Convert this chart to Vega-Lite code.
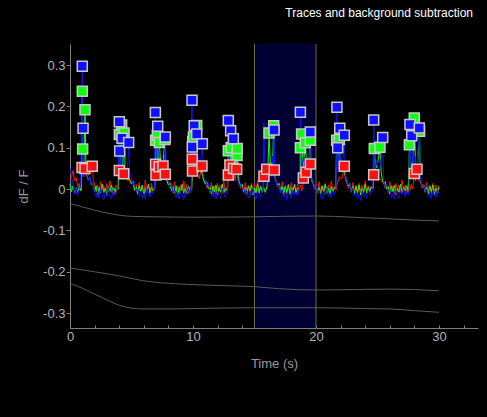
{
"$schema": "https://vega.github.io/schema/vega-lite/v6.json",
"width": 408, "height": 284,
"autosize": {"type": "none"},
"padding": {"left": 70, "top": 44, "right": 9, "bottom": 89},
"background": "black",
"title": {"text": "Traces and background subtraction", "anchor": "end", "color": "white", "fontSize": 12, "fontWeight": "normal", "font": "Liberation Sans", "offset": 15, "baseline": "alphabetic", "dx": -5},
"config": {
  "view": {"stroke": null},
  "axis": {"domainColor": "#808080", "tickColor": "#808080", "labelColor": "#b4b4b4", "titleColor": "#9a9a9a", "labelFont": "Liberation Sans", "titleFont": "Liberation Sans", "labelFontSize": 13, "titleFontSize": 13, "titleFontWeight": "normal", "grid": false}
},
"datasets": {
  "band": [{"t": 15, "t2": 20}],
  "edges": [{"t": 15}, {"t": 20}],
  "bg": [
    {"k": 1, "t": 0, "v": -0.035}, {"k": 1, "t": 1, "v": -0.043}, {"k": 1, "t": 2, "v": -0.051}, {"k": 1, "t": 3, "v": -0.058}, {"k": 1, "t": 4, "v": -0.063}, {"k": 1, "t": 5, "v": -0.066}, {"k": 1, "t": 7, "v": -0.067}, {"k": 1, "t": 10, "v": -0.068}, {"k": 1, "t": 15, "v": -0.067}, {"k": 1, "t": 20, "v": -0.065}, {"k": 1, "t": 23, "v": -0.068}, {"k": 1, "t": 26, "v": -0.072}, {"k": 1, "t": 28, "v": -0.075}, {"k": 1, "t": 30, "v": -0.077},
    {"k": 2, "t": 0, "v": -0.191}, {"k": 2, "t": 2, "v": -0.2}, {"k": 2, "t": 4, "v": -0.21}, {"k": 2, "t": 6, "v": -0.222}, {"k": 2, "t": 8, "v": -0.228}, {"k": 2, "t": 10, "v": -0.231}, {"k": 2, "t": 13, "v": -0.234}, {"k": 2, "t": 15, "v": -0.236}, {"k": 2, "t": 17, "v": -0.241}, {"k": 2, "t": 20, "v": -0.244}, {"k": 2, "t": 23, "v": -0.243}, {"k": 2, "t": 26, "v": -0.242}, {"k": 2, "t": 28, "v": -0.243}, {"k": 2, "t": 30, "v": -0.246},
    {"k": 3, "t": 0, "v": -0.228}, {"k": 3, "t": 1, "v": -0.24}, {"k": 3, "t": 2, "v": -0.254}, {"k": 3, "t": 3, "v": -0.268}, {"k": 3, "t": 4, "v": -0.281}, {"k": 3, "t": 5, "v": -0.288}, {"k": 3, "t": 6, "v": -0.29}, {"k": 3, "t": 8, "v": -0.29}, {"k": 3, "t": 10, "v": -0.289}, {"k": 3, "t": 15, "v": -0.287}, {"k": 3, "t": 20, "v": -0.287}, {"k": 3, "t": 24, "v": -0.289}, {"k": 3, "t": 26, "v": -0.29}, {"k": 3, "t": 28, "v": -0.294}, {"k": 3, "t": 30, "v": -0.298}
  ],
  "tr": [
    {"c":"r","t":0,"v":0.02},{"c":"r","t":0.125,"v":0.03},{"c":"r","t":0.25,"v":0.045},{"c":"r","t":0.375,"v":0.02},{"c":"r","t":0.5,"v":0.028},{"c":"r","t":0.625,"v":0.006},{"c":"r","t":0.75,"v":0.014},{"c":"r","t":0.875,"v":-0.004},
    {"c":"r","t":0.9,"v":0},{"c":"r","t":0.98,"v":0.052,"p":1},{"c":"r","t":1.1,"v":0.03},{"c":"r","t":1.22,"v":0.05,"p":1},{"c":"r","t":1.4,"v":0.03},{"c":"r","t":1.6,"v":0.04},{"c":"r","t":1.81,"v":0.055,"p":1},{"c":"r","t":1.9,"v":0.02},
    {"c":"r","t":2,"v":0.012},{"c":"r","t":2.125,"v":-0.006},{"c":"r","t":2.25,"v":0.01},{"c":"r","t":2.375,"v":-0.012},{"c":"r","t":2.5,"v":0.018},{"c":"r","t":2.625,"v":-0.002},{"c":"r","t":2.75,"v":0.008},{"c":"r","t":2.875,"v":-0.01},{"c":"r","t":3,"v":0.014},{"c":"r","t":3.125,"v":-0.006},{"c":"r","t":3.25,"v":0.02},{"c":"r","t":3.375,"v":-0.008},{"c":"r","t":3.5,"v":0.006},{"c":"r","t":3.625,"v":-0.012},{"c":"r","t":3.75,"v":0.01},{"c":"r","t":3.875,"v":-0.002},
    {"c":"r","t":3.92,"v":0},{"c":"r","t":4.01,"v":0.045,"p":1},{"c":"r","t":4.2,"v":0.025},{"c":"r","t":4.37,"v":0.037,"p":1},{"c":"r","t":4.5,"v":0.03},{"c":"r","t":4.7,"v":0.02},
    {"c":"r","t":4.875,"v":0.025},{"c":"r","t":5,"v":0.012},{"c":"r","t":5.125,"v":0.02},{"c":"r","t":5.25,"v":-0.004},{"c":"r","t":5.375,"v":0.012},{"c":"r","t":5.5,"v":-0.01},{"c":"r","t":5.625,"v":0.016},{"c":"r","t":5.75,"v":-0.006},{"c":"r","t":5.875,"v":0.008},{"c":"r","t":6,"v":-0.012},{"c":"r","t":6.125,"v":0.022},{"c":"r","t":6.25,"v":-0.004},{"c":"r","t":6.375,"v":0.01},{"c":"r","t":6.5,"v":-0.01},{"c":"r","t":6.625,"v":0.014},{"c":"r","t":6.75,"v":-0.006},
    {"c":"r","t":6.88,"v":0},{"c":"r","t":6.96,"v":0.06,"p":1},{"c":"r","t":6.975,"v":0.02},{"c":"r","t":6.99,"v":0.034,"p":1},{"c":"r","t":7.12,"v":0.03},{"c":"r","t":7.26,"v":0.054,"p":1},{"c":"r","t":7.4,"v":0.03},{"c":"r","t":7.56,"v":0.056,"p":1},{"c":"r","t":7.65,"v":0.03},{"c":"r","t":7.75,"v":0.036,"p":1},{"c":"r","t":7.85,"v":0.02},
    {"c":"r","t":8,"v":0.016},{"c":"r","t":8.125,"v":0.002},{"c":"r","t":8.25,"v":0.012},{"c":"r","t":8.375,"v":-0.01},{"c":"r","t":8.5,"v":0.018},{"c":"r","t":8.625,"v":-0.006},{"c":"r","t":8.75,"v":0.008},{"c":"r","t":8.875,"v":-0.012},{"c":"r","t":9,"v":0.01},{"c":"r","t":9.125,"v":-0.004},{"c":"r","t":9.25,"v":0.02},{"c":"r","t":9.375,"v":-0.008},{"c":"r","t":9.5,"v":0.012},{"c":"r","t":9.625,"v":-0.01},{"c":"r","t":9.75,"v":0.006},
    {"c":"r","t":9.88,"v":0},{"c":"r","t":9.94,"v":0.072,"p":1},{"c":"r","t":9.95,"v":0.02},{"c":"r","t":9.96,"v":0.044,"p":1},{"c":"r","t":10.1,"v":0.03},{"c":"r","t":10.3,"v":0.04},{"c":"r","t":10.5,"v":0.025},{"c":"r","t":10.73,"v":0.056,"p":1},{"c":"r","t":10.85,"v":0.02},
    {"c":"r","t":11,"v":0.018},{"c":"r","t":11.125,"v":0.004},{"c":"r","t":11.25,"v":0.012},{"c":"r","t":11.375,"v":-0.008},{"c":"r","t":11.5,"v":0.016},{"c":"r","t":11.625,"v":-0.01},{"c":"r","t":11.75,"v":0.006},{"c":"r","t":11.875,"v":-0.012},{"c":"r","t":12,"v":0.014},{"c":"r","t":12.125,"v":-0.004},{"c":"r","t":12.25,"v":0.01},{"c":"r","t":12.375,"v":-0.008},{"c":"r","t":12.5,"v":0.02},{"c":"r","t":12.625,"v":-0.006},{"c":"r","t":12.75,"v":0.004},
    {"c":"r","t":12.82,"v":0},{"c":"r","t":12.87,"v":0.034,"p":1},{"c":"r","t":12.94,"v":0.02},{"c":"r","t":13,"v":0.058,"p":1},{"c":"r","t":13.15,"v":0.03},{"c":"r","t":13.3,"v":0.05,"p":1},{"c":"r","t":13.42,"v":0.02},{"c":"r","t":13.55,"v":0.048,"p":1},{"c":"r","t":13.65,"v":0.02},
    {"c":"r","t":13.75,"v":0.016},{"c":"r","t":13.875,"v":0.002},{"c":"r","t":14,"v":0.01},{"c":"r","t":14.125,"v":-0.008},{"c":"r","t":14.25,"v":0.016},{"c":"r","t":14.375,"v":-0.006},{"c":"r","t":14.5,"v":0.008},{"c":"r","t":14.625,"v":-0.012},{"c":"r","t":14.75,"v":0.014},{"c":"r","t":14.875,"v":-0.004},{"c":"r","t":15,"v":0.01},{"c":"r","t":15.125,"v":-0.01},{"c":"r","t":15.25,"v":0.022},{"c":"r","t":15.375,"v":-0.006},{"c":"r","t":15.5,"v":0.008},{"c":"r","t":15.625,"v":-0.008},
    {"c":"r","t":15.7,"v":0},{"c":"r","t":15.77,"v":0.031,"p":1},{"c":"r","t":15.88,"v":0.02},{"c":"r","t":15.99,"v":0.048,"p":1},{"c":"r","t":16.2,"v":0.03},{"c":"r","t":16.4,"v":0.04},{"c":"r","t":16.61,"v":0.046,"p":1},{"c":"r","t":16.7,"v":0.02},
    {"c":"r","t":16.8,"v":0.016},{"c":"r","t":16.875,"v":0.004},{"c":"r","t":17,"v":0.012},{"c":"r","t":17.125,"v":-0.008},{"c":"r","t":17.25,"v":0.018},{"c":"r","t":17.375,"v":-0.006},{"c":"r","t":17.5,"v":0.006},{"c":"r","t":17.625,"v":-0.012},{"c":"r","t":17.75,"v":0.012},{"c":"r","t":17.875,"v":-0.004},{"c":"r","t":18,"v":0.016},{"c":"r","t":18.125,"v":-0.01},{"c":"r","t":18.25,"v":0.01},{"c":"r","t":18.375,"v":-0.006},{"c":"r","t":18.5,"v":0.012},{"c":"r","t":18.625,"v":-0.004},{"c":"r","t":18.75,"v":0.01},{"c":"r","t":18.85,"v":-0.004},
    {"c":"r","t":18.9,"v":0},{"c":"r","t":18.97,"v":0.027,"p":1},{"c":"r","t":19.08,"v":0.02},{"c":"r","t":19.19,"v":0.041,"p":1},{"c":"r","t":19.35,"v":0.03},{"c":"r","t":19.54,"v":0.061,"p":1},{"c":"r","t":19.62,"v":0.02},
    {"c":"r","t":19.75,"v":0.014},{"c":"r","t":19.875,"v":0},{"c":"r","t":20,"v":0.012},{"c":"r","t":20.125,"v":-0.01},{"c":"r","t":20.25,"v":0.018},{"c":"r","t":20.375,"v":-0.006},{"c":"r","t":20.5,"v":0.008},{"c":"r","t":20.625,"v":-0.012},{"c":"r","t":20.75,"v":0.014},{"c":"r","t":20.875,"v":-0.004},{"c":"r","t":21,"v":0.01},{"c":"r","t":21.125,"v":-0.008},{"c":"r","t":21.25,"v":0.02},{"c":"r","t":21.375,"v":-0.006},{"c":"r","t":21.5,"v":0.006},{"c":"r","t":21.625,"v":-0.004},
    {"c":"r","t":21.7,"v":0.01},{"c":"r","t":21.9,"v":0.03},{"c":"r","t":22.1,"v":0.025},{"c":"r","t":22.3,"v":0.055,"p":1},{"c":"r","t":22.4,"v":0.02},
    {"c":"r","t":22.5,"v":0.016},{"c":"r","t":22.625,"v":0.002},{"c":"r","t":22.75,"v":0.01},{"c":"r","t":22.875,"v":-0.008},{"c":"r","t":23,"v":0.016},{"c":"r","t":23.125,"v":-0.006},{"c":"r","t":23.25,"v":0.008},{"c":"r","t":23.375,"v":-0.012},{"c":"r","t":23.5,"v":0.014},{"c":"r","t":23.625,"v":-0.004},{"c":"r","t":23.75,"v":0.01},{"c":"r","t":23.875,"v":-0.01},{"c":"r","t":24,"v":0.02},{"c":"r","t":24.125,"v":-0.006},{"c":"r","t":24.25,"v":0.008},{"c":"r","t":24.375,"v":-0.008},{"c":"r","t":24.5,"v":0.006},
    {"c":"r","t":24.62,"v":0},{"c":"r","t":24.69,"v":0.035,"p":1},{"c":"r","t":24.85,"v":0.03},{"c":"r","t":25.05,"v":0.02},{"c":"r","t":25.25,"v":0.025},{"c":"r","t":25.4,"v":0.015},
    {"c":"r","t":25.5,"v":0.014},{"c":"r","t":25.625,"v":0.002},{"c":"r","t":25.75,"v":0.01},{"c":"r","t":25.875,"v":-0.008},{"c":"r","t":26,"v":0.018},{"c":"r","t":26.125,"v":-0.006},{"c":"r","t":26.25,"v":0.008},{"c":"r","t":26.375,"v":-0.012},{"c":"r","t":26.5,"v":0.014},{"c":"r","t":26.625,"v":-0.004},{"c":"r","t":26.75,"v":0.01},{"c":"r","t":26.875,"v":-0.008},{"c":"r","t":27,"v":0.022},{"c":"r","t":27.125,"v":-0.006},{"c":"r","t":27.25,"v":0.01},{"c":"r","t":27.375,"v":-0.01},{"c":"r","t":27.5,"v":0.014},{"c":"r","t":27.625,"v":-0.004},{"c":"r","t":27.75,"v":0.012},{"c":"r","t":27.85,"v":0},
    {"c":"r","t":27.9,"v":0.01},{"c":"r","t":27.99,"v":0.038,"p":1},{"c":"r","t":28.1,"v":0.02},{"c":"r","t":28.21,"v":0.048,"p":1},{"c":"r","t":28.32,"v":0.02},
    {"c":"r","t":28.5,"v":0.016},{"c":"r","t":28.625,"v":0.002},{"c":"r","t":28.75,"v":0.01},{"c":"r","t":28.875,"v":-0.008},{"c":"r","t":29,"v":0.016},{"c":"r","t":29.125,"v":-0.006},{"c":"r","t":29.25,"v":0.008},{"c":"r","t":29.375,"v":-0.012},{"c":"r","t":29.5,"v":0.014},{"c":"r","t":29.625,"v":-0.004},{"c":"r","t":29.75,"v":0.01},{"c":"r","t":29.875,"v":-0.008},{"c":"r","t":30,"v":0.008},

    {"c":"g","t":0,"v":0.012},{"c":"g","t":0.125,"v":-0.006},{"c":"g","t":0.25,"v":0.008},{"c":"g","t":0.375,"v":-0.012},{"c":"g","t":0.5,"v":0.004},{"c":"g","t":0.625,"v":-0.008},{"c":"g","t":0.75,"v":0.006},{"c":"g","t":0.875,"v":-0.004},
    {"c":"g","t":0.92,"v":0},{"c":"g","t":1,"v":0.237,"p":1},{"c":"g","t":1.015,"v":0.04},{"c":"g","t":1.03,"v":0.097,"p":1},{"c":"g","t":1.12,"v":0.05},{"c":"g","t":1.22,"v":0.192,"p":1},{"c":"g","t":1.3,"v":0.04},
    {"c":"g","t":1.375,"v":0.035},{"c":"g","t":1.5,"v":0.02},{"c":"g","t":1.625,"v":0.028},{"c":"g","t":1.75,"v":0.008},{"c":"g","t":1.875,"v":0.014},{"c":"g","t":2,"v":-0.006},{"c":"g","t":2.125,"v":0.008},{"c":"g","t":2.25,"v":-0.014},{"c":"g","t":2.375,"v":0.004},{"c":"g","t":2.5,"v":-0.01},{"c":"g","t":2.625,"v":0.012},{"c":"g","t":2.75,"v":-0.008},{"c":"g","t":2.875,"v":0.002},{"c":"g","t":3,"v":-0.016},{"c":"g","t":3.125,"v":0.006},{"c":"g","t":3.25,"v":-0.006},{"c":"g","t":3.375,"v":0.01},{"c":"g","t":3.5,"v":-0.012},{"c":"g","t":3.625,"v":0.002},{"c":"g","t":3.75,"v":-0.008},{"c":"g","t":3.875,"v":0.004},
    {"c":"g","t":3.92,"v":0},{"c":"g","t":4.01,"v":0.132,"p":1},{"c":"g","t":4.1,"v":0.05},{"c":"g","t":4.2,"v":0.155,"p":1},{"c":"g","t":4.3,"v":0.05},{"c":"g","t":4.39,"v":0.136,"p":1},{"c":"g","t":4.5,"v":0.04},{"c":"g","t":4.7,"v":0.03},
    {"c":"g","t":4.875,"v":0.02},{"c":"g","t":5,"v":0.012},{"c":"g","t":5.125,"v":0.018},{"c":"g","t":5.25,"v":-0.002},{"c":"g","t":5.375,"v":0.006},{"c":"g","t":5.5,"v":-0.012},{"c":"g","t":5.625,"v":0.008},{"c":"g","t":5.75,"v":-0.006},{"c":"g","t":5.875,"v":0.01},{"c":"g","t":6,"v":-0.014},{"c":"g","t":6.125,"v":0.002},{"c":"g","t":6.25,"v":-0.008},{"c":"g","t":6.375,"v":0.012},{"c":"g","t":6.5,"v":-0.01},{"c":"g","t":6.625,"v":0.004},{"c":"g","t":6.75,"v":-0.004},
    {"c":"g","t":6.88,"v":0},{"c":"g","t":6.96,"v":0.118,"p":1},{"c":"g","t":7.03,"v":0.05},{"c":"g","t":7.1,"v":0.13,"p":1},{"c":"g","t":7.18,"v":0.05},{"c":"g","t":7.26,"v":0.113,"p":1},{"c":"g","t":7.4,"v":0.05},{"c":"g","t":7.55,"v":0.06},{"c":"g","t":7.72,"v":0.12,"p":1},{"c":"g","t":7.8,"v":0.03},
    {"c":"g","t":7.875,"v":0.02},{"c":"g","t":8,"v":0.01},{"c":"g","t":8.125,"v":0.016},{"c":"g","t":8.25,"v":-0.004},{"c":"g","t":8.375,"v":0.006},{"c":"g","t":8.5,"v":-0.01},{"c":"g","t":8.625,"v":0.008},{"c":"g","t":8.75,"v":-0.014},{"c":"g","t":8.875,"v":0.004},{"c":"g","t":9,"v":-0.006},{"c":"g","t":9.125,"v":0.012},{"c":"g","t":9.25,"v":-0.01},{"c":"g","t":9.375,"v":0.002},{"c":"g","t":9.5,"v":-0.012},{"c":"g","t":9.625,"v":0.006},{"c":"g","t":9.75,"v":-0.004},
    {"c":"g","t":9.9,"v":0},{"c":"g","t":9.98,"v":0.115,"p":1},{"c":"g","t":10.005,"v":0.04},{"c":"g","t":10.03,"v":0.126,"p":1},{"c":"g","t":10.15,"v":0.05},{"c":"g","t":10.3,"v":0.154,"p":1},{"c":"g","t":10.4,"v":0.04},{"c":"g","t":10.6,"v":0.05},{"c":"g","t":10.8,"v":0.03},
    {"c":"g","t":10.875,"v":0.022},{"c":"g","t":11,"v":0.012},{"c":"g","t":11.125,"v":0.018},{"c":"g","t":11.25,"v":0},{"c":"g","t":11.375,"v":0.006},{"c":"g","t":11.5,"v":-0.012},{"c":"g","t":11.625,"v":0.008},{"c":"g","t":11.75,"v":-0.006},{"c":"g","t":11.875,"v":0.01},{"c":"g","t":12,"v":-0.014},{"c":"g","t":12.125,"v":0.004},{"c":"g","t":12.25,"v":-0.008},{"c":"g","t":12.375,"v":0.012},{"c":"g","t":12.5,"v":-0.01},{"c":"g","t":12.625,"v":0.002},{"c":"g","t":12.75,"v":-0.004},
    {"c":"g","t":12.8,"v":0},{"c":"g","t":12.87,"v":0.093,"p":1},{"c":"g","t":12.98,"v":0.04},{"c":"g","t":13.1,"v":0.1,"p":1},{"c":"g","t":13.25,"v":0.04},{"c":"g","t":13.4,"v":0.05},{"c":"g","t":13.58,"v":0.081,"p":1},{"c":"g","t":13.59,"v":0.05},{"c":"g","t":13.6,"v":0.098,"p":1},{"c":"g","t":13.68,"v":0.03},
    {"c":"g","t":13.75,"v":0.018},{"c":"g","t":13.875,"v":0.008},{"c":"g","t":14,"v":0.012},{"c":"g","t":14.125,"v":-0.006},{"c":"g","t":14.25,"v":0.004},{"c":"g","t":14.375,"v":-0.012},{"c":"g","t":14.5,"v":0.008},{"c":"g","t":14.625,"v":-0.004},{"c":"g","t":14.75,"v":0.01},{"c":"g","t":14.875,"v":-0.014},{"c":"g","t":15,"v":0.002},{"c":"g","t":15.125,"v":-0.008},{"c":"g","t":15.25,"v":0.012},{"c":"g","t":15.375,"v":-0.01},{"c":"g","t":15.5,"v":0.006},{"c":"g","t":15.625,"v":-0.006},{"c":"g","t":15.75,"v":0.004},{"c":"g","t":15.875,"v":-0.008},
    {"c":"g","t":16.05,"v":0.01},{"c":"g","t":16.18,"v":0.136,"p":1},{"c":"g","t":16.3,"v":0.05},{"c":"g","t":16.45,"v":0.04},{"c":"g","t":16.56,"v":0.153,"p":1},{"c":"g","t":16.65,"v":0.03},
    {"c":"g","t":16.75,"v":0.02},{"c":"g","t":16.875,"v":0.008},{"c":"g","t":17,"v":0.014},{"c":"g","t":17.125,"v":-0.004},{"c":"g","t":17.25,"v":0.006},{"c":"g","t":17.375,"v":-0.012},{"c":"g","t":17.5,"v":0.008},{"c":"g","t":17.625,"v":-0.008},{"c":"g","t":17.75,"v":0.01},{"c":"g","t":17.875,"v":-0.014},{"c":"g","t":18,"v":0.004},{"c":"g","t":18.125,"v":-0.006},{"c":"g","t":18.25,"v":0.012},{"c":"g","t":18.375,"v":-0.01},{"c":"g","t":18.5,"v":0.002},
    {"c":"g","t":18.65,"v":0},{"c":"g","t":18.73,"v":0.1,"p":1},{"c":"g","t":18.78,"v":0.04},{"c":"g","t":18.83,"v":0.133,"p":1},{"c":"g","t":18.95,"v":0.05},{"c":"g","t":19.13,"v":0.112,"p":1},{"c":"g","t":19.25,"v":0.05},{"c":"g","t":19.4,"v":0.06},{"c":"g","t":19.54,"v":0.118,"p":1},{"c":"g","t":19.62,"v":0.03},
    {"c":"g","t":19.75,"v":0.016},{"c":"g","t":19.875,"v":0.006},{"c":"g","t":20,"v":0.01},{"c":"g","t":20.125,"v":-0.008},{"c":"g","t":20.25,"v":0.004},{"c":"g","t":20.375,"v":-0.012},{"c":"g","t":20.5,"v":0.008},{"c":"g","t":20.625,"v":-0.006},{"c":"g","t":20.75,"v":0.012},{"c":"g","t":20.875,"v":-0.01},{"c":"g","t":21,"v":0.002},{"c":"g","t":21.125,"v":-0.014},{"c":"g","t":21.25,"v":0.006},{"c":"g","t":21.375,"v":-0.006},{"c":"g","t":21.5,"v":0.004},
    {"c":"g","t":21.6,"v":0},{"c":"g","t":21.68,"v":0.118,"p":1},{"c":"g","t":21.78,"v":0.05},{"c":"g","t":21.9,"v":0.12,"p":1},{"c":"g","t":22,"v":0.05},{"c":"g","t":22.15,"v":0.06},{"c":"g","t":22.3,"v":0.04},{"c":"g","t":22.4,"v":0.03},
    {"c":"g","t":22.5,"v":0.02},{"c":"g","t":22.625,"v":0.008},{"c":"g","t":22.75,"v":0.014},{"c":"g","t":22.875,"v":-0.004},{"c":"g","t":23,"v":0.006},{"c":"g","t":23.125,"v":-0.012},{"c":"g","t":23.25,"v":0.008},{"c":"g","t":23.375,"v":-0.008},{"c":"g","t":23.5,"v":0.01},{"c":"g","t":23.625,"v":-0.014},{"c":"g","t":23.75,"v":0.002},{"c":"g","t":23.875,"v":-0.006},{"c":"g","t":24,"v":0.012},{"c":"g","t":24.125,"v":-0.01},{"c":"g","t":24.25,"v":0.004},{"c":"g","t":24.375,"v":-0.004},{"c":"g","t":24.5,"v":0.006},
    {"c":"g","t":24.66,"v":0},{"c":"g","t":24.74,"v":0.098,"p":1},{"c":"g","t":24.85,"v":0.05},{"c":"g","t":25,"v":0.06},{"c":"g","t":25.2,"v":0.101,"p":1},{"c":"g","t":25.3,"v":0.04},
    {"c":"g","t":25.375,"v":0.025},{"c":"g","t":25.5,"v":0.014},{"c":"g","t":25.625,"v":0.018},{"c":"g","t":25.75,"v":0},{"c":"g","t":25.875,"v":0.006},{"c":"g","t":26,"v":-0.012},{"c":"g","t":26.125,"v":0.008},{"c":"g","t":26.25,"v":-0.006},{"c":"g","t":26.375,"v":0.01},{"c":"g","t":26.5,"v":-0.014},{"c":"g","t":26.625,"v":0.002},{"c":"g","t":26.75,"v":-0.008},{"c":"g","t":26.875,"v":0.012},{"c":"g","t":27,"v":-0.01},{"c":"g","t":27.125,"v":0.004},{"c":"g","t":27.25,"v":-0.004},{"c":"g","t":27.375,"v":0.008},{"c":"g","t":27.5,"v":-0.006},
    {"c":"g","t":27.54,"v":0},{"c":"g","t":27.59,"v":0.107,"p":1},{"c":"g","t":27.7,"v":0.05},{"c":"g","t":27.85,"v":0.06},{"c":"g","t":27.99,"v":0.172,"p":1},{"c":"g","t":28.1,"v":0.05},{"c":"g","t":28.25,"v":0.06},{"c":"g","t":28.42,"v":0.14,"p":1},{"c":"g","t":28.47,"v":0.03},
    {"c":"g","t":28.5,"v":0.02},{"c":"g","t":28.625,"v":0.008},{"c":"g","t":28.75,"v":0.012},{"c":"g","t":28.875,"v":-0.006},{"c":"g","t":29,"v":0.004},{"c":"g","t":29.125,"v":-0.012},{"c":"g","t":29.25,"v":0.008},{"c":"g","t":29.375,"v":-0.006},{"c":"g","t":29.5,"v":0.01},{"c":"g","t":29.625,"v":-0.014},{"c":"g","t":29.75,"v":0.002},{"c":"g","t":29.875,"v":-0.008},{"c":"g","t":30,"v":0.006},

    {"c":"b","t":0,"v":0.05},{"c":"b","t":0.125,"v":0.03},{"c":"b","t":0.25,"v":0.01},{"c":"b","t":0.375,"v":-0.012},{"c":"b","t":0.5,"v":0.004},{"c":"b","t":0.625,"v":-0.016},{"c":"b","t":0.75,"v":-0.002},{"c":"b","t":0.875,"v":0.01},
    {"c":"b","t":1,"v":0.297,"p":1},{"c":"b","t":1.03,"v":0.03},{"c":"b","t":1.06,"v":0.147,"p":1},{"c":"b","t":1.1,"v":0.05},
    {"c":"b","t":1.125,"v":0.06},{"c":"b","t":1.25,"v":0.03},{"c":"b","t":1.375,"v":0.045},{"c":"b","t":1.5,"v":0.02},{"c":"b","t":1.625,"v":0.03},{"c":"b","t":1.75,"v":0.008},{"c":"b","t":1.875,"v":0.015},{"c":"b","t":2,"v":-0.006},{"c":"b","t":2.125,"v":-0.02},{"c":"b","t":2.25,"v":-0.004},{"c":"b","t":2.375,"v":-0.022},{"c":"b","t":2.5,"v":0.002},{"c":"b","t":2.625,"v":-0.016},{"c":"b","t":2.75,"v":-0.026},{"c":"b","t":2.875,"v":-0.006},{"c":"b","t":3,"v":-0.018},{"c":"b","t":3.125,"v":0.004},{"c":"b","t":3.25,"v":-0.014},{"c":"b","t":3.375,"v":-0.024},{"c":"b","t":3.5,"v":-0.002},{"c":"b","t":3.625,"v":-0.016},{"c":"b","t":3.75,"v":-0.008},{"c":"b","t":3.875,"v":0},
    {"c":"b","t":4.01,"v":0.163,"p":1},{"c":"b","t":4.025,"v":0.04},{"c":"b","t":4.04,"v":0.092,"p":1},{"c":"b","t":4.12,"v":0.05},{"c":"b","t":4.23,"v":0.123,"p":1},{"c":"b","t":4.35,"v":0.04},{"c":"b","t":4.5,"v":0.06},{"c":"b","t":4.65,"v":0.03},{"c":"b","t":4.77,"v":0.113,"p":1},{"c":"b","t":4.85,"v":0.04},
    {"c":"b","t":5,"v":0.025},{"c":"b","t":5.125,"v":0.01},{"c":"b","t":5.25,"v":0.018},{"c":"b","t":5.375,"v":-0.004},{"c":"b","t":5.5,"v":0.002},{"c":"b","t":5.625,"v":-0.018},{"c":"b","t":5.75,"v":-0.006},{"c":"b","t":5.875,"v":-0.022},{"c":"b","t":6,"v":-0.01},{"c":"b","t":6.125,"v":-0.024},{"c":"b","t":6.25,"v":0.002},{"c":"b","t":6.375,"v":-0.014},{"c":"b","t":6.5,"v":-0.02},{"c":"b","t":6.625,"v":-0.004},{"c":"b","t":6.75,"v":-0.012},
    {"c":"b","t":6.85,"v":0},{"c":"b","t":6.94,"v":0.185,"p":1},{"c":"b","t":7.03,"v":0.05},{"c":"b","t":7.13,"v":0.152,"p":1},{"c":"b","t":7.3,"v":0.05},{"c":"b","t":7.5,"v":0.07},{"c":"b","t":7.65,"v":0.04},{"c":"b","t":7.75,"v":0.126,"p":1},{"c":"b","t":7.85,"v":0.03},
    {"c":"b","t":8,"v":0.02},{"c":"b","t":8.125,"v":0.006},{"c":"b","t":8.25,"v":0.012},{"c":"b","t":8.375,"v":-0.008},{"c":"b","t":8.5,"v":-0.002},{"c":"b","t":8.625,"v":-0.02},{"c":"b","t":8.75,"v":-0.008},{"c":"b","t":8.875,"v":-0.024},{"c":"b","t":9,"v":-0.004},{"c":"b","t":9.125,"v":-0.016},{"c":"b","t":9.25,"v":-0.026},{"c":"b","t":9.375,"v":-0.006},{"c":"b","t":9.5,"v":-0.014},{"c":"b","t":9.625,"v":0.002},{"c":"b","t":9.75,"v":-0.01},
    {"c":"b","t":9.85,"v":0},{"c":"b","t":9.92,"v":0.215,"p":1},{"c":"b","t":9.93,"v":0.04},{"c":"b","t":9.94,"v":0.102,"p":1},{"c":"b","t":10.02,"v":0.05},{"c":"b","t":10.1,"v":0.153,"p":1},{"c":"b","t":10.2,"v":0.06},{"c":"b","t":10.3,"v":0.133,"p":1},{"c":"b","t":10.45,"v":0.05},{"c":"b","t":10.6,"v":0.06},{"c":"b","t":10.76,"v":0.11,"p":1},{"c":"b","t":10.85,"v":0.03},
    {"c":"b","t":11,"v":0.025},{"c":"b","t":11.125,"v":0.008},{"c":"b","t":11.25,"v":0.014},{"c":"b","t":11.375,"v":-0.006},{"c":"b","t":11.5,"v":0},{"c":"b","t":11.625,"v":-0.018},{"c":"b","t":11.75,"v":-0.01},{"c":"b","t":11.875,"v":-0.024},{"c":"b","t":12,"v":-0.004},{"c":"b","t":12.125,"v":-0.016},{"c":"b","t":12.25,"v":-0.022},{"c":"b","t":12.375,"v":0.002},{"c":"b","t":12.5,"v":-0.012},{"c":"b","t":12.625,"v":-0.02},{"c":"b","t":12.75,"v":-0.006},
    {"c":"b","t":12.82,"v":0},{"c":"b","t":12.87,"v":0.166,"p":1},{"c":"b","t":12.96,"v":0.05},{"c":"b","t":13.06,"v":0.141,"p":1},{"c":"b","t":13.17,"v":0.05},{"c":"b","t":13.28,"v":0.122,"p":1},{"c":"b","t":13.4,"v":0.04},{"c":"b","t":13.55,"v":0.03},
    {"c":"b","t":13.625,"v":0.02},{"c":"b","t":13.75,"v":0.008},{"c":"b","t":13.875,"v":0.016},{"c":"b","t":14,"v":-0.002},{"c":"b","t":14.125,"v":0.004},{"c":"b","t":14.25,"v":-0.014},{"c":"b","t":14.375,"v":-0.004},{"c":"b","t":14.5,"v":-0.022},{"c":"b","t":14.625,"v":-0.008},{"c":"b","t":14.75,"v":-0.018},{"c":"b","t":14.875,"v":0.002},{"c":"b","t":15,"v":-0.016},{"c":"b","t":15.125,"v":-0.024},{"c":"b","t":15.25,"v":-0.006},{"c":"b","t":15.375,"v":-0.014},{"c":"b","t":15.5,"v":-0.02},{"c":"b","t":15.625,"v":-0.004},
    {"c":"b","t":15.7,"v":0},{"c":"b","t":15.77,"v":0.16},{"c":"b","t":15.85,"v":0.02},{"c":"b","t":16,"v":0.01},{"c":"b","t":16.2,"v":0.06},{"c":"b","t":16.35,"v":0.03},{"c":"b","t":16.45,"v":0.08},{"c":"b","t":16.52,"v":0.03},{"c":"b","t":16.59,"v":0.143,"p":1},{"c":"b","t":16.65,"v":0.03},
    {"c":"b","t":16.75,"v":0.02},{"c":"b","t":16.875,"v":0.006},{"c":"b","t":17,"v":0.01},{"c":"b","t":17.125,"v":-0.008},{"c":"b","t":17.25,"v":-0.002},{"c":"b","t":17.375,"v":-0.02},{"c":"b","t":17.5,"v":-0.01},{"c":"b","t":17.625,"v":-0.026},{"c":"b","t":17.75,"v":-0.006},{"c":"b","t":17.875,"v":-0.016},{"c":"b","t":18,"v":-0.022},{"c":"b","t":18.125,"v":-0.002},{"c":"b","t":18.25,"v":-0.014},{"c":"b","t":18.375,"v":-0.008},{"c":"b","t":18.5,"v":-0.016},
    {"c":"b","t":18.65,"v":0},{"c":"b","t":18.73,"v":0.186,"p":1},{"c":"b","t":18.85,"v":0.05},{"c":"b","t":19,"v":0.08},{"c":"b","t":19.15,"v":0.04},{"c":"b","t":19.3,"v":0.06},{"c":"b","t":19.45,"v":0.04},{"c":"b","t":19.54,"v":0.138,"p":1},{"c":"b","t":19.62,"v":0.03},
    {"c":"b","t":19.75,"v":0.018},{"c":"b","t":19.875,"v":0.006},{"c":"b","t":20,"v":0.01},{"c":"b","t":20.125,"v":-0.008},{"c":"b","t":20.25,"v":-0.002},{"c":"b","t":20.375,"v":-0.018},{"c":"b","t":20.5,"v":-0.024},{"c":"b","t":20.625,"v":-0.006},{"c":"b","t":20.75,"v":-0.014},{"c":"b","t":20.875,"v":0.002},{"c":"b","t":21,"v":-0.018},{"c":"b","t":21.125,"v":-0.01},{"c":"b","t":21.25,"v":-0.022},{"c":"b","t":21.375,"v":-0.004},{"c":"b","t":21.5,"v":-0.012},
    {"c":"b","t":21.62,"v":0},{"c":"b","t":21.7,"v":0.198,"p":1},{"c":"b","t":21.73,"v":0.04},{"c":"b","t":21.76,"v":0.1,"p":1},{"c":"b","t":21.85,"v":0.05},{"c":"b","t":21.93,"v":0.147,"p":1},{"c":"b","t":22.05,"v":0.05},{"c":"b","t":22.18,"v":0.06},{"c":"b","t":22.3,"v":0.13,"p":1},{"c":"b","t":22.4,"v":0.03},
    {"c":"b","t":22.5,"v":0.022},{"c":"b","t":22.625,"v":0.01},{"c":"b","t":22.75,"v":0.014},{"c":"b","t":22.875,"v":-0.004},{"c":"b","t":23,"v":0.002},{"c":"b","t":23.125,"v":-0.016},{"c":"b","t":23.25,"v":-0.008},{"c":"b","t":23.375,"v":-0.024},{"c":"b","t":23.5,"v":-0.012},{"c":"b","t":23.625,"v":-0.028},{"c":"b","t":23.75,"v":-0.006},{"c":"b","t":23.875,"v":-0.018},{"c":"b","t":24,"v":-0.01},{"c":"b","t":24.125,"v":-0.022},{"c":"b","t":24.25,"v":-0.002},{"c":"b","t":24.375,"v":-0.014},{"c":"b","t":24.5,"v":-0.008},
    {"c":"b","t":24.62,"v":0},{"c":"b","t":24.69,"v":0.167,"p":1},{"c":"b","t":24.8,"v":0.05},{"c":"b","t":24.95,"v":0.07},{"c":"b","t":25.1,"v":0.04},{"c":"b","t":25.25,"v":0.06},{"c":"b","t":25.42,"v":0.125,"p":1},
    {"c":"b","t":25.5,"v":0.018},{"c":"b","t":25.625,"v":0.006},{"c":"b","t":25.75,"v":0.01},{"c":"b","t":25.875,"v":-0.006},{"c":"b","t":26,"v":-0.002},{"c":"b","t":26.125,"v":-0.02},{"c":"b","t":26.25,"v":-0.01},{"c":"b","t":26.375,"v":-0.024},{"c":"b","t":26.5,"v":-0.004},{"c":"b","t":26.625,"v":-0.016},{"c":"b","t":26.75,"v":-0.022},{"c":"b","t":26.875,"v":-0.004},{"c":"b","t":27,"v":-0.012},{"c":"b","t":27.125,"v":0},{"c":"b","t":27.25,"v":-0.018},{"c":"b","t":27.375,"v":-0.008},{"c":"b","t":27.5,"v":-0.014},
    {"c":"b","t":27.58,"v":0},{"c":"b","t":27.64,"v":0.156,"p":1},{"c":"b","t":27.71,"v":0.05},{"c":"b","t":27.78,"v":0.129,"p":1},{"c":"b","t":27.9,"v":0.05},{"c":"b","t":28.05,"v":0.08},{"c":"b","t":28.2,"v":0.04},{"c":"b","t":28.4,"v":0.148,"p":1},{"c":"b","t":28.47,"v":0.03},
    {"c":"b","t":28.5,"v":0.022},{"c":"b","t":28.625,"v":0.008},{"c":"b","t":28.75,"v":0.012},{"c":"b","t":28.875,"v":-0.006},{"c":"b","t":29,"v":0},{"c":"b","t":29.125,"v":-0.018},{"c":"b","t":29.25,"v":-0.008},{"c":"b","t":29.375,"v":-0.024},{"c":"b","t":29.5,"v":-0.004},{"c":"b","t":29.625,"v":-0.016},{"c":"b","t":29.75,"v":-0.02},{"c":"b","t":29.875,"v":-0.002},{"c":"b","t":30,"v":-0.012}
  ]
},
"encoding": {
  "x": {"field": "t", "type": "quantitative", "scale": {"domain": [0, 33.17], "nice": false, "zero": false},
        "axis": {"title": "Time (s)", "values": [0,2,4,6,8,10,12,14,16,18,20,22,24,26,28,30,32], "labelExpr": "datum.value % 10 == 0 ? datum.label : ''", "tickSize": -3, "labelPadding": 5, "titlePadding": 14, "labelFlush": false, "labelOverlap": false}}
},
"layer": [
  {"data": {"name": "band"}, "mark": {"type": "rect", "color": "#000033"}, "encoding": {"x2": {"field": "t2"}}},
  {"data": {"name": "edges"}, "mark": {"type": "rule", "color": "#6e6e45", "strokeWidth": 1}, "encoding": {}},
  {"data": {"name": "bg"}, "mark": {"type": "line", "color": "#595959", "strokeWidth": 1, "interpolate": "monotone"},
   "encoding": {"y": {"field": "v", "type": "quantitative", "scale": {"domain": [-0.336, 0.351], "nice": false, "zero": false},
     "axis": {"title": "dF / F", "values": [-0.3,-0.2,-0.1,0,0.1,0.2,0.3], "labelExpr": "datum.value == 0 ? '0' : replace(format(datum.value, '.1f'), '\u2212', '-')", "tickSize": 4, "labelPadding": 1, "titlePadding": 12}},
     "detail": {"field": "k", "type": "nominal"}}},
  {"data": {"name": "tr"}, "mark": {"type": "line", "strokeWidth": 1},
   "encoding": {"y": {"field": "v", "type": "quantitative"},
     "color": {"field": "c", "type": "nominal", "scale": {"domain": ["r", "g", "b"], "range": ["#ff1010", "#10ff10", "#1010ff"]}, "legend": null}}},
  {"data": {"name": "tr"}, "transform": [{"filter": "datum.p == 1 && datum.c == 'g'"}], "mark": {"type": "square", "size": 100, "filled": true, "opacity": 1, "color": "#10ff10", "stroke": "#c8c8c8", "strokeWidth": 1.5},
   "encoding": {"y": {"field": "v", "type": "quantitative"}}},
  {"data": {"name": "tr"}, "transform": [{"filter": "datum.p == 1 && datum.c == 'b'"}], "mark": {"type": "square", "size": 100, "filled": true, "opacity": 1, "color": "#1010ff", "stroke": "#c8c8c8", "strokeWidth": 1.5},
   "encoding": {"y": {"field": "v", "type": "quantitative"}}},
  {"data": {"name": "tr"}, "transform": [{"filter": "datum.p == 1 && datum.c == 'r'"}], "mark": {"type": "square", "size": 100, "filled": true, "opacity": 1, "color": "#ff1010", "stroke": "#c8c8c8", "strokeWidth": 1.5},
   "encoding": {"y": {"field": "v", "type": "quantitative"}}}
]
}
